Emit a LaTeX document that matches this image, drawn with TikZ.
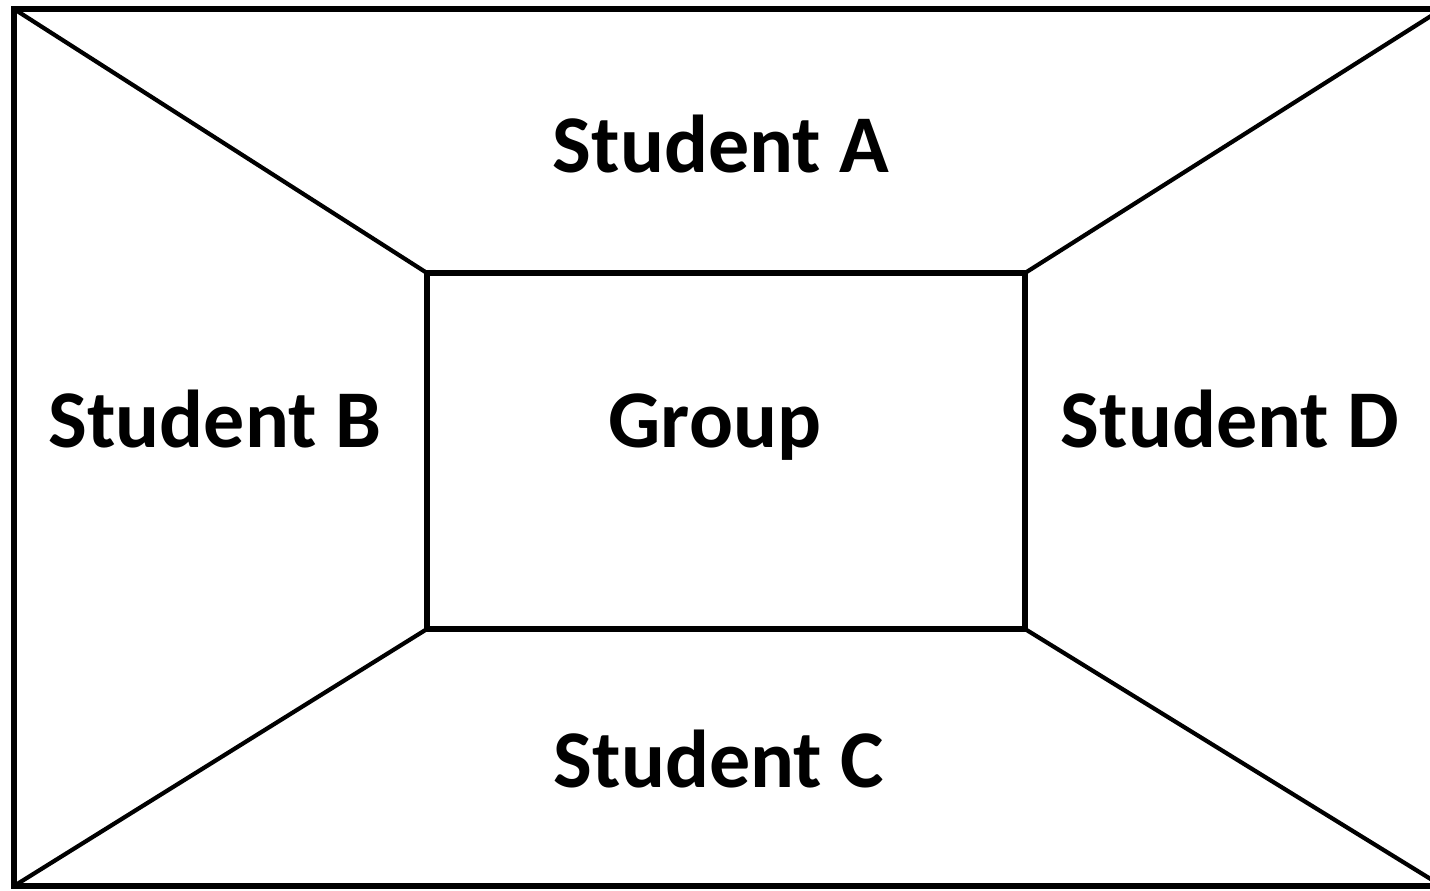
\documentclass[tikz,border=0pt]{standalone}
\usepackage{fontspec}
\setmainfont{Carlito}
\usetikzlibrary{positioning}
\tikzstyle{box}=[rectangle,draw=black,line width=2.6pt,inner sep=0pt,outer sep=0pt,anchor=center]
\tikzstyle{annot}=[align=center,inner sep=0pt,anchor=base,font=\fontsize{41}{49}\selectfont\bfseries]
\tikzstyle{edge}=[draw=black,line width=2.1pt]

\begin{document}
\begin{tikzpicture}[x=0.5pt,y=-0.5pt]
	\useasboundingbox (0,0) rectangle (1430,890);

	\node[box, minimum width=714pt, minimum height=438.5pt](frame) at (728,447.5){};
	\node[box, minimum width=299pt, minimum height=178pt](group) at (726,451){};

	\draw[edge] (frame.north west) -- (group.north west);
	\draw[edge] (frame.north east) -- (group.north east);
	\draw[edge] (frame.south west) -- (group.south west);
	\draw[edge] (frame.south east) -- (group.south east);

	\node[annot](studa) at (721,172){Student A};
	\node[annot](studb) at (215,447){Student B};
	\node[annot](grouptext) at (715,447){Group};
	\node[annot](studd) at (1230,447){Student D};
	\node[annot](studc) at (719,787){Student C};
\end{tikzpicture}
\end{document}
